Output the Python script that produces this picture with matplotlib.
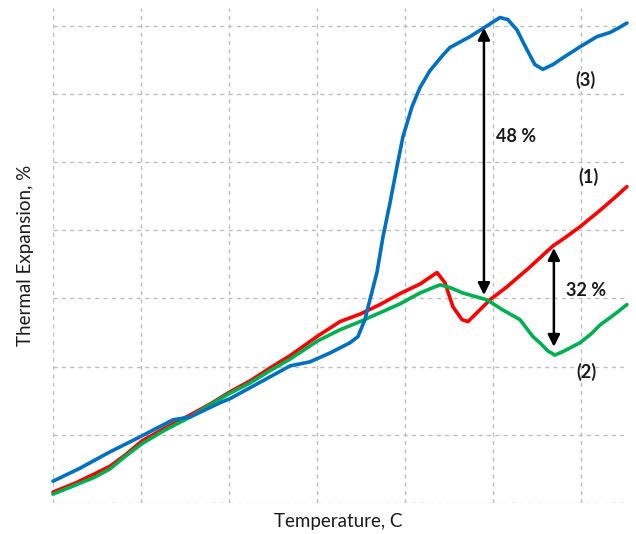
import matplotlib
matplotlib.use("Agg")
import matplotlib.pyplot as plt

plt.rcParams['font.family'] = ['Lato', 'DejaVu Sans']

# temperature (grid step = 100) and thermal expansion (grid step = 1)
temp_1 = [0, 25.0, 47.7, 64.8, 81.8, 101.1, 127.3, 155.7, 178.4, 201.1, 223.9, 246.6, 269.3,
          301.1, 326.1, 348.9, 371.6, 394.3, 417.0, 436.4, 445.5, 454.5, 464.8, 471.6, 481.8,
          496.6, 515.9, 542.0, 568.2, 581.8, 598.9, 621.6, 638.6, 652.3]
exp_1 = [0.16, 0.29, 0.43, 0.54, 0.70, 0.91, 1.10, 1.29, 1.45, 1.63, 1.79, 1.98, 2.16,
         2.45, 2.66, 2.77, 2.91, 3.07, 3.21, 3.38, 3.23, 2.88, 2.69, 2.66, 2.79,
         2.98, 3.17, 3.46, 3.77, 3.89, 4.05, 4.29, 4.48, 4.64]

temp_2 = [0, 25.0, 47.7, 64.8, 81.8, 101.1, 127.3, 155.7, 178.4, 201.1, 223.9, 246.6, 269.3,
          301.1, 326.1, 348.9, 371.6, 394.3, 417.0, 439.8, 451.1, 465.9, 493.2, 511.4, 530.7,
          545.5, 553.4, 562.5, 570.5, 579.5, 598.9, 612.5, 621.6, 638.6, 652.3]
exp_2 = [0.13, 0.26, 0.38, 0.50, 0.68, 0.87, 1.07, 1.26, 1.44, 1.61, 1.76, 1.94, 2.11,
         2.38, 2.54, 2.66, 2.79, 2.92, 3.08, 3.20, 3.16, 3.08, 2.98, 2.83, 2.69,
         2.44, 2.35, 2.23, 2.17, 2.22, 2.35, 2.49, 2.61, 2.77, 2.91]

temp_3 = [0, 30.7, 47.7, 64.8, 98.9, 136.4, 155.7, 189.8, 201.1, 223.9, 246.6, 269.3, 292.0,
          314.8, 337.5, 346.6, 354.5, 360.2, 368.2, 375.0, 383.0, 390.9, 397.7, 408.0, 417.0,
          428.4, 443.2, 451.1, 473.9, 488.6, 508.0, 517.0, 527.3, 538.6, 547.7, 556.8, 568.2,
          576.1, 598.9, 618.2, 632.9, 643.2, 652.3]
exp_3 = [0.32, 0.51, 0.63, 0.75, 0.97, 1.22, 1.26, 1.47, 1.53, 1.69, 1.85, 2.01, 2.07,
         2.20, 2.35, 2.44, 2.69, 2.98, 3.38, 3.90, 4.40, 4.93, 5.37, 5.81, 6.09,
         6.34, 6.57, 6.68, 6.84, 6.96, 7.12, 7.09, 6.94, 6.65, 6.43, 6.36, 6.43,
         6.50, 6.69, 6.84, 6.90, 6.97, 7.04]

# difference arrows: (temperature, low, high, label)
gap_48 = (489.8, 3.05, 6.97, '48 %')
gap_32 = (569.3, 2.29, 3.74, '32 %')

fig = plt.figure(figsize=(6.36, 5.34), dpi=100)
ax = fig.add_axes([53 / 636, 31 / 534, 571 / 636, 495 / 534])

line_kw = dict(lw=2.6, clip_on=False, solid_joinstyle='round', solid_capstyle='round')
ax.plot(temp_1, exp_1, color='#FF0000', zorder=3, **line_kw)
ax.plot(temp_2, exp_2, color='#00B050', zorder=4, **line_kw)
ax.plot(temp_3, exp_3, color='#0070C0', zorder=5, **line_kw)

for x, lo, hi, lab in [gap_48, gap_32]:
    ax.annotate('', xy=(x, hi), xytext=(x, lo),
                arrowprops=dict(arrowstyle='<|-|>', color='black', lw=1.8,
                                mutation_scale=18, shrinkA=0, shrinkB=0), zorder=6)

bold = dict(fontsize=13, fontweight='bold', color='#1a1a1a')
ax.text(503.4, 5.37, gap_48[3], ha='left', va='center', **bold)
ax.text(605.7, 3.11, gap_32[3], ha='center', va='center', **bold)
ax.text(609.1, 4.78, '(1)', ha='center', va='center', **bold)
ax.text(606.8, 1.92, '(2)', ha='center', va='center', **bold)
ax.text(605.7, 6.21, '(3)', ha='center', va='center', **bold)

ax.set_xlim(0, 649)
ax.set_ylim(0, 7.26)
ax.set_xticks(range(0, 700, 100))
ax.set_yticks(range(0, 8))
ax.tick_params(length=0, labelbottom=False, labelleft=False)
for s in ax.spines.values():
    s.set_visible(False)
ax.grid(True, color='#BFBFBF', linestyle=(0, (3, 3)), linewidth=1)
ax.set_axisbelow(True)

ax.set_xlabel('Temperature, C', fontsize=13.5, color='#1a1a1a', labelpad=7)
ax.set_ylabel('Thermal Expansion, %', fontsize=13.5, color='#1a1a1a', labelpad=14)

fig.savefig('out.png', dpi=100)
